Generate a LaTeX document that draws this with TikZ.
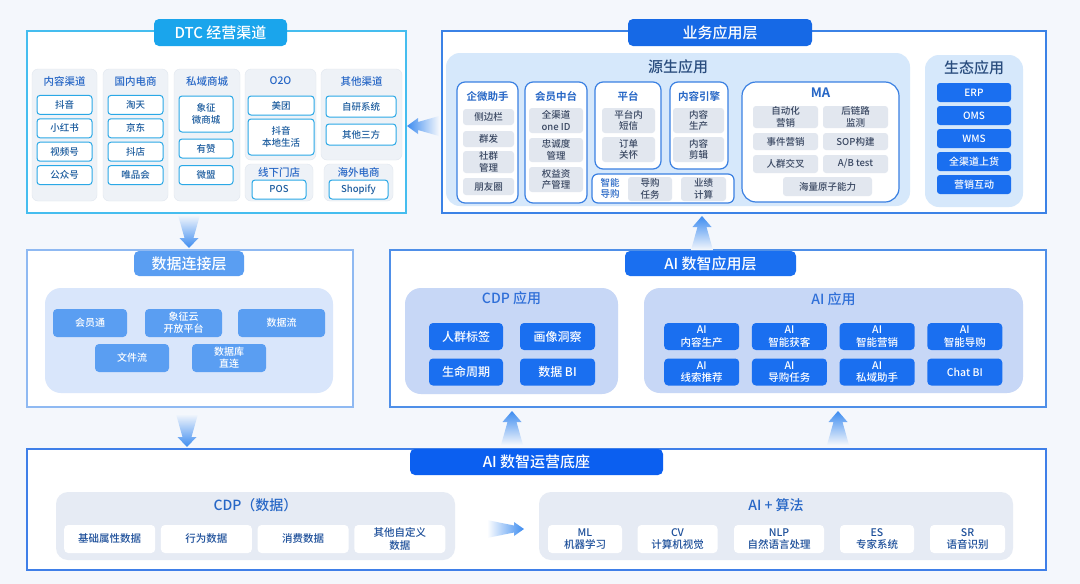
\documentclass[tikz,border=0pt]{standalone}
\usepackage{fontspec}
\setmainfont{Noto Sans CJK SC}[UprightFont=* Medium, BoldFont=* Bold]
\usetikzlibrary{positioning}

\definecolor{cBg}{HTML}{F4F7FC}
\definecolor{cDtcLine}{HTML}{45BDEF}
\definecolor{cDtcTab}{HTML}{1AA5EC}
\definecolor{cChLine}{HTML}{2AA8E6}
\definecolor{cChText}{HTML}{1C5C9E}
\definecolor{cHead}{HTML}{2767C6}
\definecolor{cColGray}{HTML}{EEF2F7}
\definecolor{cColLine}{HTML}{E1E7EF}
\definecolor{cBizLine}{HTML}{3B82E6}
\definecolor{cBizTab}{HTML}{1669E6}
\definecolor{cSrcFill}{HTML}{D6E8FB}
\definecolor{cSrcLine}{HTML}{3A80E2}
\definecolor{cGFill}{HTML}{E2E7EF}
\definecolor{cGText}{HTML}{3A4862}
\definecolor{cDark}{HTML}{2A4D7E}
\definecolor{cApp}{HTML}{1A6FF0}
\definecolor{cConnLine}{HTML}{8FB9F2}
\definecolor{cConnTab}{HTML}{5A9EF2}
\definecolor{cConnFill}{HTML}{D9E6FB}
\definecolor{cAiLine}{HTML}{4F8FE8}
\definecolor{cAiFill}{HTML}{C7D7F6}
\definecolor{cAiTitle}{HTML}{2F6FD8}
\definecolor{cBaseLine}{HTML}{3F7FE8}
\definecolor{cBaseTab}{HTML}{0B5FF0}
\definecolor{cBaseFill}{HTML}{E6EBF4}
\definecolor{cBaseText}{HTML}{1D4F9A}
\definecolor{cArrow}{HTML}{3D8CF0}

\tikzset{
  sz/.style 2 args={minimum width=#1pt,minimum height=#2pt},
  frame/.style={draw=#1, line width=1.2pt, fill=white},
  tab/.style={fill=#1, rounded corners=5pt, text=white, font=\fontsize{15}{17}\selectfont},
  chcol/.style={fill=cColGray, draw=cColLine, rounded corners=6pt},
  chhead/.style={text=cHead, font=\fontsize{10.5}{12}\selectfont},
  chitem/.style={draw=cChLine, line width=1pt, fill=white, rounded corners=3pt, text=cChText,
    font=\fontsize{9.5}{11.5}\selectfont},
  panel/.style={fill=#1, rounded corners=14pt},
  srcbox/.style={draw=cSrcLine, line width=1.2pt, fill=white, rounded corners=8pt},
  srchead/.style={text=cHead, font=\bfseries\fontsize{10.5}{12}\selectfont},
  gitem/.style={fill=cGFill, text=cGText, rounded corners=3pt, font=\fontsize{9.5}{11.5}\selectfont},
  bitem/.style={fill=#1, text=white, rounded corners=4pt, font=\fontsize{10}{12}\selectfont},
  witem/.style={fill=white, text=cBaseText, rounded corners=4pt, font=\fontsize{10.5}{12.5}\selectfont},
  ptitle/.style={text=#1, font=\fontsize{14}{16}\selectfont},
}

\begin{document}
\begin{tikzpicture}[x=1pt,y=-1pt,every node/.style={inner sep=0pt,outer sep=0pt,align=center}]
\fill[cBg] (0,0) rectangle (1080,584);
\useasboundingbox (0,0) rectangle (1080,584);

% frames
\node[frame=cDtcLine, sz={379}{182}] (dtc) at (216.5,122) {};
\node[frame=cBizLine, sz={604}{182}] (biz) at (744,122) {};
\node[frame=cConnLine, sz={326}{157}] (conn) at (190,328.5) {};
\node[frame=cAiLine, sz={656}{157}] (aiapp) at (718,328.5) {};
\node[frame=cBaseLine, sz={1019}{121}] (base) at (536.5,509.5) {};

% tabs
\node[tab=cDtcTab, sz={133}{27}] (dtctab) at (220.5,32.5) {DTC 经营渠道};
\node[tab=cBizTab, sz={184}{27}] (biztab) at (720,32.5) {业务应用层};
\node[tab=cConnTab, sz={110}{25}] (conntab) at (189,263.5) {数据连接层};
\node[tab=cApp, sz={171}{25}] (aitab) at (710.5,263.5) {AI 数智应用层};
\node[tab=cBaseTab, sz={253}{26}] (basetab) at (536.5,462) {AI 数智运营底座};

% DTC channels
\node[chcol, sz={65}{132}] (col1) at (64.5,135) {};
\node[chhead] (col1h) at (64.5,81) {内容渠道};
\foreach \t [count=\i] in {抖音,小红书,视频号,公众号}
  \node[chitem, sz={55}{19}] (c1-\i) at (64.5,{81.5+23.4*\i}) {\t};

\node[chcol, sz={65}{132}] (col2) at (135.5,135) {};
\node[chhead] (col2h) at (135.5,81) {国内电商};
\foreach \t [count=\i] in {淘天,京东,抖店,唯品会}
  \node[chitem, sz={55}{19}] (c2-\i) at (135.5,{81.5+23.4*\i}) {\t};

\node[chcol, sz={66}{132}] (col3) at (207,135) {};
\node[chhead] (col3h) at (207,81) {私域商城};
\node[chitem, sz={54}{36}] (c3-1) at (206,114) {象征\\微商城};
\node[chitem, sz={54}{19}] (c3-2) at (206,148.5) {有赞};
\node[chitem, sz={54}{19}] (c3-3) at (206,175) {微盟};

\node[chcol, sz={71}{91}] (col4) at (280.5,114.5) {};
\node[chhead] (col4h) at (280.5,81) {O2O};
\node[chitem, sz={66}{19}] (c4-1) at (281,105.5) {美团};
\node[chitem, sz={66}{36}] (c4-2) at (281,137) {抖音\\本地生活};

\node[chcol, sz={68}{37}] (col5) at (279,182.5) {};
\node[chhead] (col5h) at (279,172.5) {线下门店};
\node[chitem, sz={54}{19}] (c5-1) at (279,189.5) {POS};

\node[chcol, sz={81}{91}] (col6) at (361.5,114.5) {};
\node[chhead] (col6h) at (361.5,81) {其他渠道};
\node[chitem, sz={70}{21}] (c6-1) at (361,106.5) {自研系统};
\node[chitem, sz={70}{21}] (c6-2) at (361,134.5) {其他三方};

\node[chcol, sz={69}{37}] (col7) at (358.5,182.5) {};
\node[chhead] (col7h) at (358.5,172.5) {海外电商};
\node[chitem, sz={59}{19}] (c7-1) at (358.5,189.5) {Shopify};

% 源生应用
\node[panel=cSrcFill, sz={464}{153}] (src) at (678,129.5) {};
\node[ptitle=cDark, font=\fontsize{15}{17}\selectfont] (srch) at (678,67) {源生应用};

\node[srcbox, sz={61}{121}] (qw) at (487.5,142.5) {};
\node[srchead] (qwh) at (487.5,96) {企微助手};
\node[gitem, sz={51}{16}] (qw-1) at (488.5,117) {侧边栏};
\node[gitem, sz={51}{16}] (qw-2) at (488.5,139) {群发};
\node[gitem, sz={51}{22}] (qw-3) at (488.5,162) {社群\\管理};
\node[gitem, sz={51}{17}] (qw-4) at (488.5,186.5) {朋友圈};

\node[srcbox, sz={62}{121}] (hy) at (556,142.5) {};
\node[srchead] (hyh) at (556,96) {会员中台};
\node[gitem, sz={54}{25}] (hy-1) at (556,120.5) {全渠道\\one ID};
\node[gitem, sz={54}{24}] (hy-2) at (556,150) {忠诚度\\管理};
\node[gitem, sz={54}{25}] (hy-3) at (556,179.5) {权益资\\产管理};

\node[srcbox, sz={66}{87}] (pt) at (628,125.5) {};
\node[srchead] (pth) at (628,96) {平台};
\node[gitem, sz={53}{25}] (pt-1) at (628.5,120.5) {平台内\\短信};
\node[gitem, sz={53}{25}] (pt-2) at (628.5,149.5) {订单\\关怀};

\node[srcbox, sz={58}{87}] (nr) at (699,125.5) {};
\node[srchead] (nrh) at (699,96) {内容引擎};
\node[gitem, sz={51}{25}] (nr-1) at (698.5,120.5) {内容\\生产};
\node[gitem, sz={51}{25}] (nr-2) at (698.5,149.5) {内容\\剪辑};

\node[srcbox, rounded corners=6pt, sz={142}{29}] (dg) at (663,188.5) {};
\node[srchead, font=\fontsize{9.5}{11.5}\selectfont] (dgh) at (610,188.5) {智能\\导购};
\node[gitem, sz={44}{24}] (dg-1) at (650,189) {导购\\任务};
\node[gitem, sz={45}{24}] (dg-2) at (703.5,189) {业绩\\计算};

\node[srcbox, rounded corners=14pt, sz={157}{120}] (ma) at (820.5,142) {};
\node[srchead, font=\bfseries\fontsize{13}{15}\selectfont] (mah) at (820.5,93) {MA};
\node[gitem, sz={65}{22}] (ma-1) at (785.5,117) {自动化\\营销};
\node[gitem, sz={65}{22}] (ma-2) at (855.5,117) {后链路\\监测};
\node[gitem, sz={65}{17}] (ma-3) at (785.5,141.5) {事件营销};
\node[gitem, sz={65}{17}] (ma-4) at (855.5,141.5) {SOP构建};
\node[gitem, sz={65}{18}] (ma-5) at (785.5,164) {人群交叉};
\node[gitem, sz={65}{18}] (ma-6) at (855.5,164) {A/B test};
\node[gitem, sz={89}{19}] (ma-7) at (827.5,186.5) {海量原子能力};

% 生态应用
\node[panel=cSrcFill, sz={98}{152}] (eco) at (974,131) {};
\node[ptitle=cDark, font=\fontsize{15}{17}\selectfont] (ecoh) at (974,68) {生态应用};
\foreach \t [count=\i] in {ERP,OMS,WMS,全渠道上货,营销互动}
  \node[bitem=cApp, sz={74}{19}, rounded corners=3pt] (eco-\i) at (974,{69.5+23*\i}) {\t};

% 数据连接层
\node[panel=cConnFill, rounded corners=16pt, sz={288}{105}] (cp) at (189,340.5) {};
\node[bitem=cConnTab, sz={74}{28}] (cp-1) at (90,323) {会员通};
\node[bitem=cConnTab, sz={77}{28}] (cp-2) at (183.5,323) {象征云\\开放平台};
\node[bitem=cConnTab, sz={87}{28}] (cp-3) at (281.5,323) {数据流};
\node[bitem=cConnTab, sz={74}{28}] (cp-4) at (132,358) {文件流};
\node[bitem=cConnTab, sz={74}{28}] (cp-5) at (229,358) {数据库\\直连};

% CDP 应用 / AI 应用
\node[panel=cAiFill, rounded corners=16pt, sz={213}{106}] (cdpa) at (511.5,341) {};
\node[ptitle=cAiTitle] (cdpah) at (511.5,298) {CDP 应用};
\node[bitem=cApp, sz={74}{27}, font=\fontsize{12}{14}\selectfont] (cdpa-1) at (466,336.5) {人群标签};
\node[bitem=cApp, sz={75}{27}, font=\fontsize{12}{14}\selectfont] (cdpa-2) at (557.5,336.5) {画像洞察};
\node[bitem=cApp, sz={74}{27}, font=\fontsize{12}{14}\selectfont] (cdpa-3) at (466,372) {生命周期};
\node[bitem=cApp, sz={75}{27}, font=\fontsize{12}{14}\selectfont] (cdpa-4) at (557.5,372) {数据 BI};

\node[panel=cAiFill, rounded corners=16pt, sz={379}{105}] (aia) at (833.5,340.5) {};
\node[ptitle=cAiTitle] (aiah) at (833.5,299) {AI 应用};
\foreach \t [count=\i] in {AI\\内容生产,AI\\智能获客,AI\\智能营销,AI\\智能导购}
  \node[bitem=cApp, sz={75}{27}, font=\fontsize{10.5}{12.5}\selectfont] (aia-\i) at ({614+87.7*\i},336.5) {\t};
\foreach \t [count=\i] in {AI\\线索推荐,AI\\导购任务,AI\\私域助手,Chat BI}
  \node[bitem=cApp, sz={75}{27}, font=\fontsize{10.5}{12.5}\selectfont] (aib-\i) at ({614+87.7*\i},372) {\t};

% CDP（数据） / AI + 算法
\node[panel=cBaseFill, rounded corners=12pt, sz={399}{68}] (cdpd) at (255.5,526) {};
\node[ptitle=cHead] (cdpdh) at (255.5,505) {CDP（数据）};
\foreach \t [count=\i] in {基础属性数据,行为数据,消费数据,其他自定义\\数据}
  \node[witem, sz={91}{28}] (cdpd-\i) at ({13+96.7*\i},539) {\t};

\node[panel=cBaseFill, rounded corners=12pt, sz={474}{68}] (alg) at (776,526) {};
\node[ptitle=cHead] (algh) at (776,505) {AI + 算法};
\node[witem, sz={74}{28}] (alg-1) at (585,539) {ML\\机器学习};
\node[witem, sz={80}{28}] (alg-2) at (677.5,539) {CV\\计算机视觉};
\node[witem, sz={90}{28}] (alg-3) at (779,539) {NLP\\自然语言处理};
\node[witem, sz={74}{28}] (alg-4) at (877,539) {ES\\专家系统};
\node[witem, sz={75}{28}] (alg-5) at (967.5,539) {SR\\语音识别};

% arrows between layers
\coordinate (dn1) at (189,248);
\coordinate (dn2) at (187,447);
\coordinate (up1) at (512,411);
\coordinate (up2) at (838,411);
\coordinate (up3) at (702,216);
\coordinate (lt1) at (407,126);
\coordinate (rt1) at (524,529);
\foreach \p in {dn1,dn2}
  \shade[top color=cBg, bottom color=cArrow, shift={(\p)}]
    (-11,-33) -- (11,-33) -- (4.5,-10) -- (9.5,-10) -- (0,0) -- (-9.5,-10) -- (-4.5,-10) -- cycle;
\foreach \p in {up1,up2,up3}
  \shade[top color=cArrow, bottom color=cBg, shift={(\p)}]
    (-11,34) -- (11,34) -- (4.5,11) -- (9.5,11) -- (0,0) -- (-9.5,11) -- (-4.5,11) -- cycle;
\shade[left color=cArrow, right color=cBg, shift={(lt1)}]
  (0,0) -- (11,-8) -- (11,-4) -- (32,-10) -- (32,10) -- (11,4) -- (11,8) -- cycle;
\shade[left color=white, right color=cArrow, shift={(rt1)}]
  (0,0) -- (-10,-7) -- (-10,-3.5) -- (-37,-9) -- (-37,9) -- (-10,3.5) -- (-10,7) -- cycle;
\end{tikzpicture}
\end{document}
